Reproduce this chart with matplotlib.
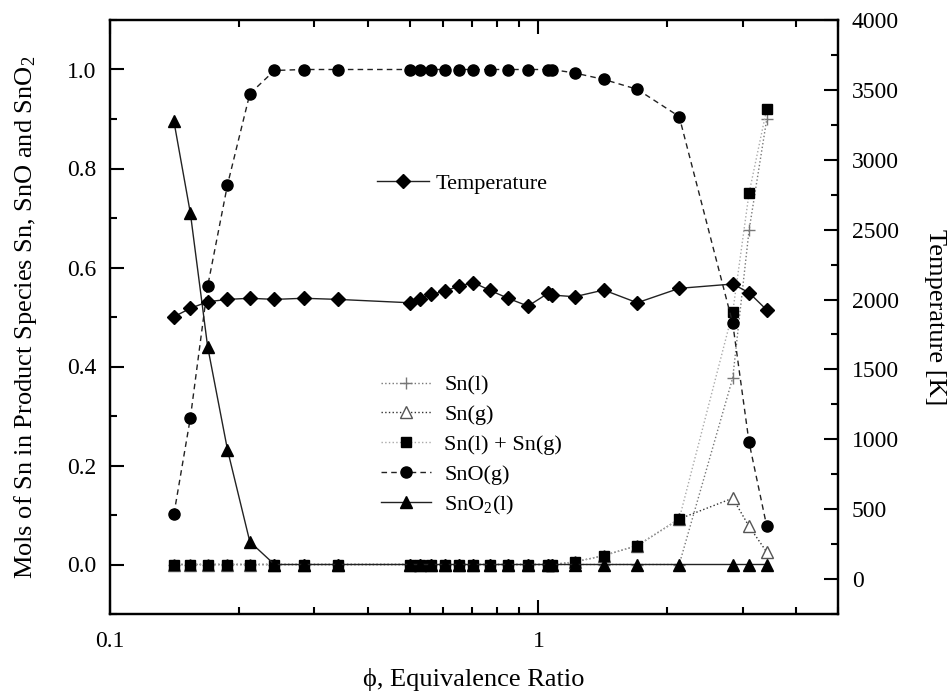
import numpy as np
import matplotlib
matplotlib.use('Agg')
from matplotlib import pyplot as plt
from matplotlib.ticker import LogLocator, MultipleLocator, NullFormatter, FixedLocator, FixedFormatter

plt.rcParams['font.family'] = ['Liberation Serif', 'DejaVu Serif']
plt.rcParams['mathtext.fontset'] = 'custom'
plt.rcParams['mathtext.rm'] = 'Liberation Serif'
plt.rcParams['mathtext.default'] = 'rm'

# equivalence ratio (phi)
phi = [0.141, 0.154, 0.169, 0.188, 0.212, 0.242, 0.283, 0.34, 0.50, 0.53, 0.562, 0.605, 0.652,
       0.705, 0.77, 0.849, 0.945, 1.052, 1.075, 1.214, 1.42, 1.70, 2.13, 2.84, 3.10, 3.41]

# mols of Sn in product species
sn_l = [0, 0, 0, 0, 0, 0, 0, 0, 0, 0, 0, 0, 0,
        0, 0, 0, 0, 0, 0, 0, 0, 0, 0, 0.377, 0.675, 0.90]
sn_g = [0, 0, 0, 0, 0, 0, 0, 0, 0, 0, 0, 0, 0,
        0, 0, 0, 0, 0, 0, 0.005, 0.018, 0.038, 0.092, 0.134, 0.077, 0.025]
sn_lg = [0, 0, 0, 0, 0, 0, 0, 0, 0, 0, 0, 0, 0,
         0, 0, 0, 0, 0, 0, 0.005, 0.018, 0.038, 0.092, 0.51, 0.75, 0.921]
sno_g = [0.102, 0.296, 0.562, 0.767, 0.951, 0.998, 1.0, 1.0, 1.0, 1.0, 1.0, 1.0, 1.0,
         1.0, 1.0, 1.0, 1.0, 1.0, 1.0, 0.993, 0.98, 0.96, 0.905, 0.487, 0.247, 0.077]
sno2_l = [0.895, 0.71, 0.44, 0.232, 0.046, 0, 0, 0, 0, 0, 0, 0, 0,
          0, 0, 0, 0, 0, 0, 0, 0, 0, 0, 0, 0, 0]

# adiabatic temperature [K]
temp = [1877, 1937, 1984, 2001, 2009, 2001, 2009, 2001, 1977, 2004, 2037, 2060, 2097,
        2121, 2066, 2009, 1953, 2044, 2032, 2020, 2068, 1977, 2080, 2111, 2049, 1925]

fig = plt.figure(figsize=(9.53, 6.96), dpi=100)
ax = fig.add_axes([110/953, 82/696, 728/953, 594/696])
ax2 = ax.twinx()

ax.plot(phi, sn_l, linestyle=':', color='#777777', lw=1, marker='+', ms=8, mew=1,
        mec='#777777', label='Sn(l)')
ax.plot(phi, sn_g, linestyle=':', color='#333333', lw=1, marker='^', ms=8, mfc='white',
        mec='#555555', mew=1, label='Sn(g)')
ax.plot(phi, sn_lg, linestyle=':', color='#aaaaaa', lw=1, marker='s', ms=6.5,
        mfc='k', mec='k', label='Sn(l) + Sn(g)')
ax.plot(phi, sno_g, linestyle=(0, (4, 3)), color='#222222', lw=1, marker='o', ms=8,
        mfc='k', mec='k', label='SnO(g)')
ax.plot(phi, sno2_l, linestyle='-', color='#222222', lw=1, marker='^', ms=8,
        mfc='k', mec='k', label='SnO$_2$(l)')

ax2.plot(phi, temp, linestyle='-', color='#222222', lw=1, marker='D', ms=7,
         mfc='k', mec='k', label='Temperature')

ax.set_xscale('log')
ax.set_xlim(0.1, 5)
ax.set_ylim(-0.1, 1.1)
ax2.set_ylim(-250, 4000)

ax.xaxis.set_major_locator(FixedLocator([0.1, 1]))
ax.xaxis.set_major_formatter(FixedFormatter(['0.1', '1']))
ax.xaxis.set_minor_locator(LogLocator(base=10, subs=np.arange(2, 10)))
ax.xaxis.set_minor_formatter(NullFormatter())
ax.yaxis.set_major_locator(MultipleLocator(0.2))
ax.yaxis.set_minor_locator(MultipleLocator(0.1))
ax2.yaxis.set_major_locator(MultipleLocator(500))
ax2.yaxis.set_minor_locator(MultipleLocator(250))

ax.tick_params(which='both', direction='in', top=True, right=False, width=1.5, labelsize=17)
ax.tick_params(which='major', length=10)
ax.tick_params(which='minor', length=5)
ax.tick_params(axis='x', pad=12)
ax.tick_params(axis='y', pad=10)
ax2.tick_params(which='both', direction='in', width=1.5, labelsize=17, pad=10)
ax2.tick_params(which='major', length=10)
ax2.tick_params(which='minor', length=5)
for a in (ax, ax2):
    for s in a.spines.values():
        s.set_linewidth(1.6)

ax.set_xlabel('ϕ, Equivalence Ratio', fontsize=19, labelpad=12)
ax.set_ylabel('Mols of Sn in Product Species Sn, SnO and SnO$_2$', fontsize=19, labelpad=20)
ax2.set_ylabel('Temperature [K]', fontsize=19, rotation=270, labelpad=34)

ax.legend(loc='upper left', bbox_to_anchor=(381/953, 1 - 375/696), bbox_transform=fig.transFigure,
          frameon=False, fontsize=16, handlelength=2.25, handletextpad=0.6, labelspacing=0.41,
          borderpad=0, borderaxespad=0)
ax2.legend(loc='upper left', bbox_to_anchor=(377/953, 1 - 173/696), bbox_transform=fig.transFigure,
           frameon=False, fontsize=16, handlelength=2.35, handletextpad=0.3,
           borderpad=0, borderaxespad=0)

fig.savefig('out.png', dpi=100)
